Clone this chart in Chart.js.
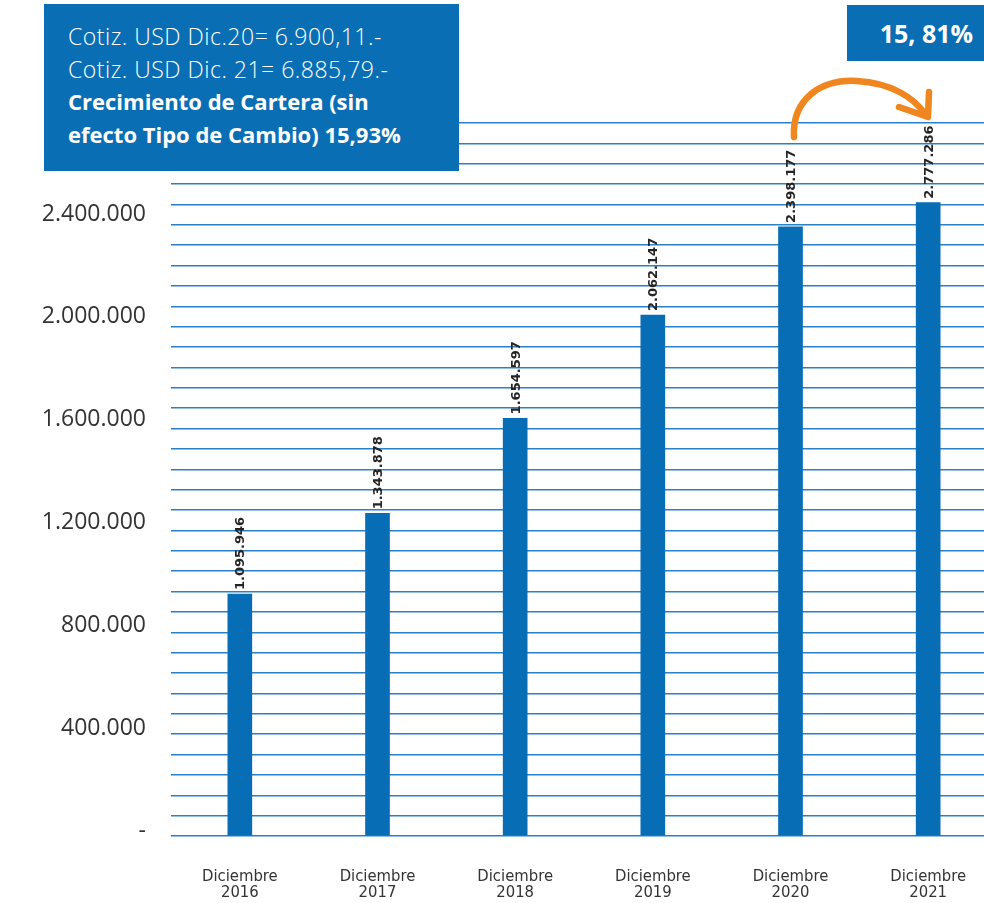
<!DOCTYPE html>
<html>
<head>
<meta charset="utf-8">
<script src="https://cdn.jsdelivr.net/npm/chart.js@4/dist/chart.umd.min.js"></script>
<style>
  html, body { margin: 0; padding: 0; background: #fff; overflow: hidden; width: 984px; height: 903px; }
  #wrap { position: absolute; left: 0; top: 0; width: 1000px; height: 903px; }
  #box1 { position: absolute; left: 44px; top: 4px; width: 415px; height: 167px; background: #0a6eb4; color: #fff;
          box-sizing: border-box; padding: 16px 0 0 24px; font-family: 'Open Sans', sans-serif; }
  #box1 div { line-height: 32.7px; white-space: nowrap; }
  #box1 .l { font-size: 23px; font-weight: 300; letter-spacing: 0.5px; }
  #box1 .b { font-size: 22px; font-weight: 700; }
  #box2 { position: absolute; left: 847px; top: 5px; width: 137px; height: 56px; background: #0a6eb4; color: #fff;
          box-sizing: border-box; padding-right: 11px; text-align: right; font-family: 'Open Sans', sans-serif;
          font-weight: 700; font-size: 25px; line-height: 56px; white-space: nowrap; }
  #arrow { position: absolute; left: 0; top: 0; width: 984px; height: 903px; pointer-events: none; }
</style>
</head>
<body>
<div id="wrap"><canvas id="c" width="1000" height="903"></canvas></div>
<div id="box1">
  <div class="l">Cotiz. USD Dic.20= 6.900,11.-</div>
  <div class="l">Cotiz. USD Dic. 21= 6.885,79.-</div>
  <div class="b">Crecimiento de Cartera (sin</div>
  <div class="b">efecto Tipo de Cambio) 15,93%</div>
</div>
<div id="box2">15, 81%</div>
<svg id="arrow" width="984" height="903" viewBox="0 0 984 903">
  <path d="M 794 137 C 792 98, 822 79, 857 81 C 892 83, 914 98, 925 114" fill="none" stroke="#f0861f" stroke-width="6.5" stroke-linecap="round"/>
  <path d="M 929 92 L 928 117 L 899 107" fill="none" stroke="#f0861f" stroke-width="6.5" stroke-linecap="round" stroke-linejoin="round"/>
</svg>
<script>
const categories = [["Diciembre","2016"],["Diciembre","2017"],["Diciembre","2018"],["Diciembre","2019"],["Diciembre","2020"],["Diciembre","2021"]];
const barValues = [950000, 1267000, 1640000, 2046000, 2392000, 2487000];
const valueLabels = ["1.095.946", "1.343.878", "1.654.597", "2.062.147", "2.398.177", "2.777.286"];
const tickValues = [0, 400000, 800000, 1200000, 1600000, 2000000, 2400000];
const tickLabels = ["-", "400.000", "800.000", "1.200.000", "1.600.000", "2.000.000", "2.400.000"];
const gridStep = 80000;
const gridMax = 2800000;

const barLabelPlugin = {
  id: 'barLabels',
  afterDatasetsDraw(chart) {
    const ctx = chart.ctx;
    const meta = chart.getDatasetMeta(0);
    ctx.save();
    ctx.font = "bold 13px 'DejaVu Sans', sans-serif";
    ctx.fillStyle = '#242424';
    ctx.textAlign = 'left';
    ctx.textBaseline = 'middle';
    meta.data.forEach((bar, i) => {
      ctx.save();
      ctx.translate(bar.x + 1, bar.y - 4);
      ctx.rotate(-Math.PI / 2);
      ctx.fillText(valueLabels[i], 0, 0);
      ctx.restore();
    });
    ctx.restore();
  }
};

new Chart(document.getElementById('c'), {
  type: 'bar',
  data: {
    labels: categories,
    datasets: [{
      data: barValues,
      backgroundColor: '#076db5',
      barThickness: 24,
      yAxisID: 'y'
    }]
  },
  options: {
    responsive: false,
    animation: false,
    layout: { padding: { top: 123, left: 0, right: 3, bottom: 0 } },
    plugins: { legend: { display: false }, tooltip: { enabled: false } },
    scales: {
      x: {
        grid: { display: false, drawTicks: false },
        border: { display: false },
        ticks: {
          padding: 33,
          color: '#333',
          font: { family: "'Liberation Sans Narrow', 'DejaVu Sans Condensed', sans-serif", size: 16.5, lineHeight: 0.95 },
          maxRotation: 0
        },
        afterFit(scale) { scale.height = 67; }
      },
      y2: {
        position: 'left',
        min: -19450,
        max: 2754120,
        grid: { display: false, drawTicks: false },
        border: { display: false },
        afterBuildTicks(scale) { scale.ticks = tickValues.map(v => ({ value: v })); },
        ticks: {
          padding: 25,
          color: '#333',
          font: { family: "'Open Sans', sans-serif", size: 23 },
          callback: (v, i) => tickLabels[i]
        },
        afterFit(scale) { scale.width = 171; }
      },
      y: {
        position: 'left',
        min: 0,
        max: gridMax,
        ticks: { display: false, stepSize: gridStep },
        grid: { color: '#2b80c5', lineWidth: 1.5, drawTicks: false },
        border: { display: false },
        afterFit(scale) { scale.width = 0; }
      }
    }
  },
  plugins: [barLabelPlugin]
});
</script>
</body>
</html>
